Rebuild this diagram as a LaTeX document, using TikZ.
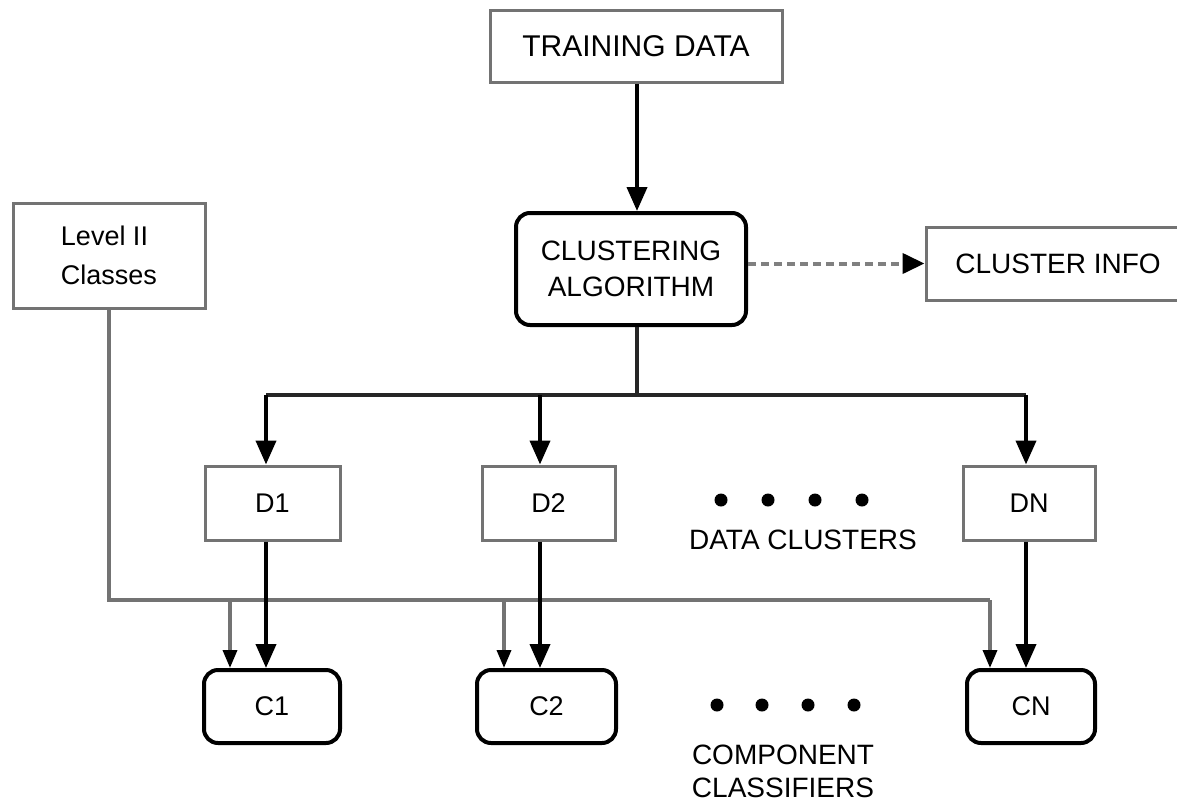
\documentclass[tikz,border=0pt]{standalone}
\usepackage{fontspec}
\setmainfont{Liberation Sans}
\usetikzlibrary{arrows.meta,calc}
\tikzset{
  gbox/.style={draw=black!55, line width=3pt, rectangle, inner sep=0pt, fill=white},
  rbox/.style={draw=black, line width=4pt, rectangle, rounded corners=14pt, inner sep=0pt, fill=white},
  big/.style={font=\fontsize{28}{36}\selectfont},
  lbl/.style={font=\fontsize{27}{36}\selectfont},
  thickline/.style={draw=black!85, line width=4.5pt},
  thickarrow/.style={draw=black, line width=4pt, -{Triangle[width=20pt,length=24pt,color=black]}},
  thinline/.style={draw=black!55, line width=3.5pt},
  thinarrow/.style={draw=black!55, line width=3.5pt, -{Triangle[width=14pt,length=18pt,color=black]}},
  dasharrow/.style={draw=black!50, line width=4pt, dash pattern=on 8pt off 5pt, -{Triangle[width=20pt,length=22pt,color=black]}},
  dot/.style={circle, fill=black, inner sep=0pt, minimum size=13pt},
}
\begin{document}
\begin{tikzpicture}[x=1pt,y=-1pt]
\useasboundingbox (0,0) rectangle (1177,803);
\fill[white] (0,0) rectangle (1177,803);

% boxes
\node[gbox, minimum width=292pt, minimum height=72pt, font=\fontsize{30}{36}\selectfont] (train) at (636,46) {TRAINING DATA};
\node[rbox, minimum width=230pt, minimum height=112pt, big, align=center] (clust) at (631,269) {CLUSTERING\\ALGORITHM};
\node[gbox, minimum width=264pt, minimum height=73pt, big] (info) at (1058,263.5) {CLUSTER INFO};
\node[gbox, minimum width=192pt, minimum height=105pt, font=\fontsize{27}{39}\selectfont, align=left] (lev) at (109,255.5) {Level II\\Classes};

\node[gbox, minimum width=135pt, minimum height=74pt, lbl] (D1) at (272.5,503) {D1};
\node[gbox, minimum width=133pt, minimum height=74pt, lbl] (D2) at (548.5,503) {D2};
\node[gbox, minimum width=132pt, minimum height=74pt, lbl] (DN) at (1029,503) {DN};

\node[rbox, minimum width=136pt, minimum height=73pt, lbl] (C1) at (272,706.5) {C1};
\node[rbox, minimum width=139pt, minimum height=73pt, lbl] (C2) at (546.5,706.5) {C2};
\node[rbox, minimum width=128pt, minimum height=73pt, lbl] (CN) at (1031,706.5) {CN};

% dots and captions
\node[dot] (p1) at (721,500) {};
\node[dot] (p2) at (768,500) {};
\node[dot] (p3) at (815,500) {};
\node[dot] (p4) at (862,500) {};
\node[big] (dc) at (803,540) {DATA CLUSTERS};
\node[dot] (q1) at (717,705) {};
\node[dot] (q2) at (762,705) {};
\node[dot] (q3) at (808,705) {};
\node[dot] (q4) at (854,705) {};
\node[big] (cc1) at (783,755) {COMPONENT};
\node[big] (cc2) at (783,788) {CLASSIFIERS};

% helper coordinates
\coordinate (br) at (637,395);
\coordinate (hl) at (0,600);
\coordinate (a1) at (266,0);
\coordinate (a2) at (540,0);
\coordinate (a3) at (1026,0);
\coordinate (t1) at (230,0);
\coordinate (t2) at (504,0);
\coordinate (t3) at (990,0);

% connectors
\draw[thickarrow] (train.south -| br) -- (clust.north -| br);
\draw[dasharrow] (clust.east |- info.west) -- (info.west);
\draw[thickline] (clust.south -| br) -- (br);
\draw[thickline] (br -| a1) -- (br -| a3);
\draw[thickarrow] (br -| a1) -- (D1.north -| a1);
\draw[thickarrow] (br -| a2) -- (D2.north -| a2);
\draw[thickarrow] (br -| a3) -- (DN.north -| a3);

\draw[thinline] (lev.south) -- (lev.south |- hl) -- (hl -| t3);
\draw[thinarrow] (hl -| t1) -- (C1.north -| t1);
\draw[thinarrow] (hl -| t2) -- (C2.north -| t2);
\draw[thinarrow] (hl -| t3) -- (CN.north -| t3);

\draw[thickarrow] (D1.south -| a1) -- (C1.north -| a1);
\draw[thickarrow] (D2.south -| a2) -- (C2.north -| a2);
\draw[thickarrow] (DN.south -| a3) -- (CN.north -| a3);
\end{tikzpicture}
\end{document}
